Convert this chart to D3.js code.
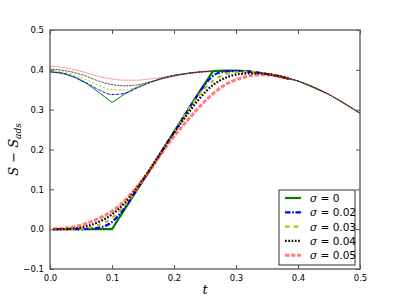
<!DOCTYPE html>
<html>
<head>
<meta charset="utf-8">
<script src="https://cdn.jsdelivr.net/npm/d3@7"></script>
<style>
  body { margin: 0; background: #fff; }
  svg { font-family: "DejaVu Sans", sans-serif; }
</style>
</head>
<body>
<svg id="chart" width="400" height="300"></svg>
<script>
// t grids
const tUpper = [0, 0.02, 0.04, 0.06, 0.08, 0.1, 0.12, 0.14, 0.16, 0.18, 0.2, 0.22, 0.25, 0.3, 0.35, 0.4, 0.45, 0.5];
const tLower = [0.005, 0.02, 0.04, 0.06, 0.08, 0.1, 0.12, 0.14, 0.16, 0.18, 0.2, 0.22, 0.24, 0.263, 0.28, 0.3, 0.32, 0.34, 0.36, 0.385];

// upper family (thin lines)
const upper0  = [0.395, 0.391, 0.381, 0.365, 0.342, 0.318, 0.339, 0.356, 0.368, 0.379, 0.386, 0.391, 0.396, 0.398, 0.389, 0.372, 0.338, 0.291];
const upper02 = [0.395, 0.392, 0.382, 0.366, 0.349, 0.338, 0.341, 0.354, 0.367, 0.378, 0.386, 0.391, 0.396, 0.398, 0.389, 0.372, 0.338, 0.291];
const upper03 = [0.398, 0.395, 0.387, 0.374, 0.360, 0.350, 0.349, 0.357, 0.367, 0.377, 0.385, 0.390, 0.395, 0.398, 0.389, 0.372, 0.338, 0.291];
const upper04 = [0.402, 0.399, 0.393, 0.383, 0.371, 0.363, 0.360, 0.362, 0.369, 0.377, 0.384, 0.390, 0.395, 0.398, 0.389, 0.372, 0.338, 0.291];
const upper05 = [0.409, 0.406, 0.400, 0.392, 0.383, 0.377, 0.374, 0.374, 0.377, 0.381, 0.386, 0.390, 0.396, 0.398, 0.389, 0.372, 0.338, 0.291];

// lower family (thick lines)
const lower0  = [0, 0, 0, 0, 0, 0, 0.049, 0.098, 0.146, 0.195, 0.244, 0.293, 0.342, 0.397, 0.398, 0.398, 0.396, 0.392, 0.387, 0.378];
const lower02 = [0, 0, 0, 0.0005, 0.004, 0.018, 0.053, 0.099, 0.146, 0.195, 0.244, 0.293, 0.341, 0.385, 0.395, 0.397, 0.396, 0.392, 0.387, 0.378];
const lower03 = [0, 0, 0.0005, 0.003, 0.011, 0.028, 0.059, 0.100, 0.147, 0.195, 0.244, 0.292, 0.336, 0.373, 0.387, 0.394, 0.395, 0.392, 0.387, 0.378];
const lower04 = [0, 0.0003, 0.002, 0.008, 0.019, 0.037, 0.065, 0.103, 0.148, 0.195, 0.242, 0.285, 0.326, 0.362, 0.378, 0.388, 0.391, 0.391, 0.387, 0.378];
const lower05 = [0.0002, 0.002, 0.006, 0.015, 0.028, 0.045, 0.071, 0.106, 0.146, 0.190, 0.233, 0.270, 0.305, 0.340, 0.360, 0.375, 0.384, 0.388, 0.386, 0.378];

const labels = ['0', '0.02', '0.03', '0.04', '0.05'];
const colors = ['#008000', '#0000ff', '#bfbf00', '#000000', '#ff0000'];
const dashes = [null, '5,1.5,1.5,1.5', '4,4', '1.5,1.5', '3,1'];
const opac = [1, 1, 1, 1, 0.5];
const uppers = [upper0, upper02, upper03, upper04, upper05];
const lowers = [lower0, lower02, lower03, lower04, lower05];

const xTicks = [0, 0.1, 0.2, 0.3, 0.4, 0.5];
const yTicks = [-0.1, 0, 0.1, 0.2, 0.3, 0.4, 0.5];

const svg = d3.select('#chart');
const mLeft = 50, mRight = 360, mTop = 30, mBottom = 269;

const x = d3.scaleLinear().domain([0, 0.5]).range([mLeft, mRight]);
const y = d3.scaleLinear().domain([-0.1, 0.5]).range([mBottom, mTop]);

const plot = svg.append('g');

function dashFor(i, w) {
  return dashes[i] ? dashes[i].split(',').map(v => v * w / 2).join(',') : null;
}

function draw(ts, vals, i, width) {
  const line = d3.line()
    .x((d, k) => x(ts[k]))
    .y(d => y(d))
    .curve(i === 0 ? d3.curveLinear : d3.curveMonotoneX);
  plot.append('path')
    .datum(vals)
    .attr('d', line)
    .attr('fill', 'none')
    .attr('stroke', colors[i])
    .attr('stroke-width', width)
    .attr('stroke-opacity', opac[i])
    .attr('stroke-dasharray', dashFor(i, width));
}

uppers.forEach((v, i) => draw(tUpper, v, i, 1));
lowers.forEach((v, i) => draw(tLower, v, i, i === 4 ? 3 : 2.2));

// frame and ticks (inward, all four sides)
const axisCol = '#555';
svg.append('rect')
  .attr('x', mLeft).attr('y', mTop)
  .attr('width', mRight - mLeft).attr('height', mBottom - mTop)
  .attr('fill', 'none').attr('stroke', axisCol).attr('stroke-width', 1.3);

const xb = d3.axisBottom(x).tickValues(xTicks).tickSizeInner(-4).tickSizeOuter(0)
  .tickPadding(6).tickFormat(d3.format('.1f'));
const gx = svg.append('g').attr('transform', `translate(0,${mBottom})`).call(xb);
const xt = d3.axisTop(x).tickValues(xTicks).tickSizeInner(-4).tickSizeOuter(0).tickFormat('');
const gxt = svg.append('g').attr('transform', `translate(0,${mTop})`).call(xt);

const yl = d3.axisLeft(y).tickValues(yTicks).tickSizeInner(-4).tickSizeOuter(0)
  .tickPadding(6).tickFormat(d => d3.format('.1f')(d).replace('-', '\u2212'));
const gy = svg.append('g').attr('transform', `translate(${mLeft},0)`).call(yl);
const yr = d3.axisRight(y).tickValues(yTicks).tickSizeInner(-4).tickSizeOuter(0).tickFormat('');
const gyr = svg.append('g').attr('transform', `translate(${mRight},0)`).call(yr);

[gx, gxt, gy, gyr].forEach(g => {
  g.select('.domain').remove();
  g.selectAll('line').attr('stroke', axisCol);
  g.selectAll('text').attr('font-size', 8.5).attr('fill', '#000')
    .attr('font-family', '"DejaVu Sans", sans-serif');
});

// axis labels
svg.append('text')
  .attr('x', (mLeft + mRight) / 2).attr('y', 294)
  .attr('text-anchor', 'middle')
  .attr('font-family', '"DejaVu Serif", serif')
  .attr('font-style', 'italic').attr('font-size', 13)
  .text('t');

const yLab = svg.append('text')
  .attr('transform', `translate(18,${(mTop + mBottom) / 2}) rotate(-90)`)
  .attr('text-anchor', 'middle')
  .attr('font-family', '"DejaVu Serif", serif')
  .attr('font-size', 13);
yLab.append('tspan').attr('font-style', 'italic').text('S');
yLab.append('tspan').text(' \u2212 ');
yLab.append('tspan').attr('font-style', 'italic').text('S');
yLab.append('tspan').attr('font-style', 'italic').attr('font-size', 9).attr('dy', 3).text('ads');

// legend
const lg = svg.append('g').attr('transform', 'translate(279,190)');
lg.append('rect')
  .attr('width', 76).attr('height', 75)
  .attr('fill', '#fff').attr('stroke', '#333').attr('stroke-width', 1);

labels.forEach((lab, i) => {
  const ry = 8 + i * 14.3;
  const w = i === 4 ? 3 : 2.2;
  lg.append('line')
    .attr('x1', 6).attr('x2', 22).attr('y1', ry).attr('y2', ry)
    .attr('stroke', colors[i]).attr('stroke-width', w)
    .attr('stroke-opacity', opac[i])
    .attr('stroke-dasharray', dashFor(i, w));
  const t = lg.append('text')
    .attr('x', 31).attr('y', ry + 4)
    .attr('font-size', 10.5);
  t.append('tspan').attr('font-family', '"DejaVu Serif", serif').attr('font-style', 'italic').text('\u03c3');
  t.append('tspan').attr('font-family', '"DejaVu Sans", sans-serif').text(' = ' + lab);
});
</script>
</body>
</html>
